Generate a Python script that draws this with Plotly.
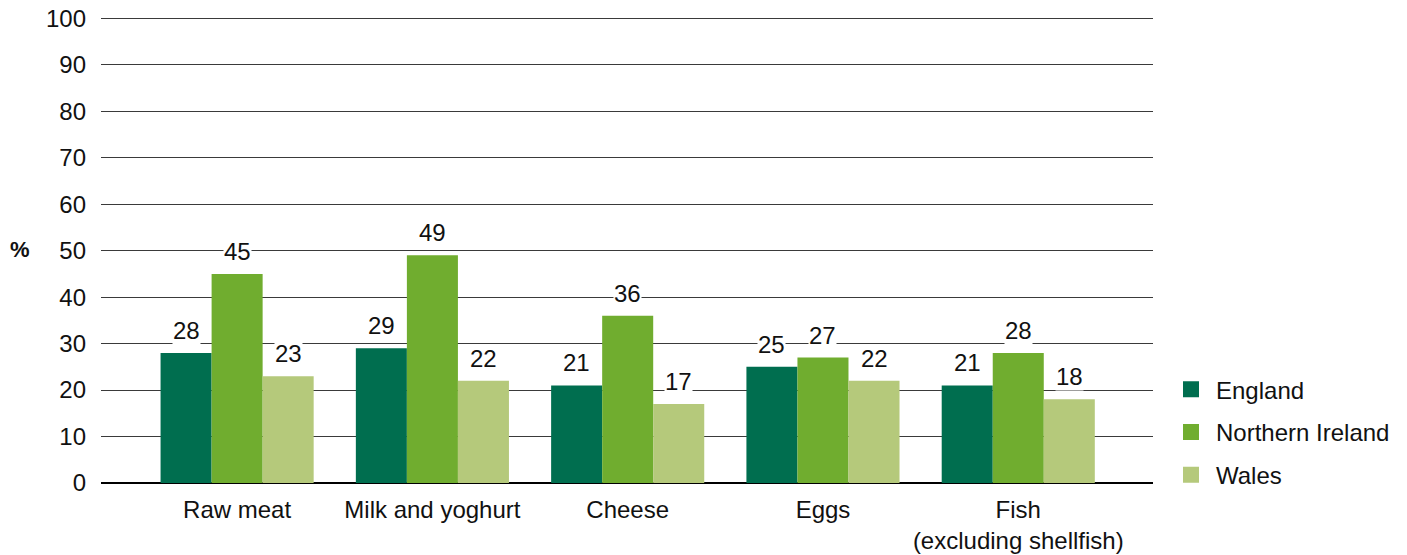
import plotly.graph_objects as go

categories = ["Raw meat", "Milk and yoghurt", "Cheese", "Eggs", "Fish<br>(excluding shellfish)"]
england = [28, 29, 21, 25, 21]
northern_ireland = [45, 49, 36, 27, 28]
wales = [23, 22, 17, 22, 18]

series = [
    ("England", england, "#006e4f"),
    ("Northern Ireland", northern_ireland, "#70ad2f"),
    ("Wales", wales, "#b5c97b"),
]

FONT = "Liberation Sans, Arial, sans-serif"
FS = 24
TXT = "#111111"
bargap = 0.216
n = len(series)
bw = (1 - bargap) / n

fig = go.Figure()
xs = list(range(len(categories)))
for k, (name, vals, col) in enumerate(series):
    fig.add_trace(go.Bar(
        x=xs, y=vals, name=name, marker=dict(color=col, line=dict(width=0)),
        showlegend=False,
    ))
# legend entries with larger square swatches
for k, (name, vals, col) in enumerate(series):
    fig.add_trace(go.Scatter(
        x=[None], y=[None], mode="markers", name=name,
        marker=dict(symbol="square", size=16, color=col),
        legendgroup=name,
    ))

# value labels with white backing, sitting above each bar
annotations = []
for k, (name, vals, col) in enumerate(series):
    off = (k - (n - 1) / 2) * bw
    for i, v in enumerate(vals):
        annotations.append(dict(
            x=i + off, y=v, xref="x", yref="y", text=str(v), showarrow=False,
            yanchor="bottom", yshift=8, bgcolor="white", borderpad=0,
            font=dict(family=FONT, size=FS, color=TXT),
        ))

annotations.append(dict(
    x=-0.077, y=50.3, xref="paper", yref="y", text="<b>%</b>", showarrow=False,
    xanchor="center", font=dict(family=FONT, size=22, color=TXT),
))

fig.update_layout(
    width=1407, height=555,
    margin=dict(l=101, r=254, t=17, b=72),
    paper_bgcolor="white", plot_bgcolor="white",
    barmode="group", bargap=bargap, bargroupgap=0,
    font=dict(family=FONT, size=FS, color=TXT),
    showlegend=True,
    legend=dict(
        x=1.0, xref="paper", y=0.109, xanchor="left", yanchor="middle",
        font=dict(family=FONT, size=FS, color=TXT),
        tracegroupgap=8.5, itemsizing="trace", itemwidth=40,
        bgcolor="rgba(0,0,0,0)",
    ),
    annotations=annotations,
)
# shift the legend so its swatches sit just right of the plot
fig.layout.legend.x = (1166 - 101) / (1407 - 101 - 254)

fig.update_xaxes(
    tickmode="array", tickvals=xs, ticktext=categories,
    range=[-0.697, 4.69], showgrid=False, zeroline=False,
    showline=False, ticks="", ticklabelstandoff=10, automargin=False,
    tickfont=dict(family=FONT, size=FS, color=TXT),
)
fig.update_yaxes(
    range=[0, 100.3], tickmode="array", tickvals=list(range(0, 101, 10)),
    showgrid=True, gridcolor="#3a3a3a", gridwidth=1,
    zeroline=True, zerolinecolor="#000000", zerolinewidth=2,
    showline=False, ticks="", ticklabelstandoff=14, automargin=False,
    tickfont=dict(family=FONT, size=FS, color=TXT),
)

fig.write_html("out.html")
